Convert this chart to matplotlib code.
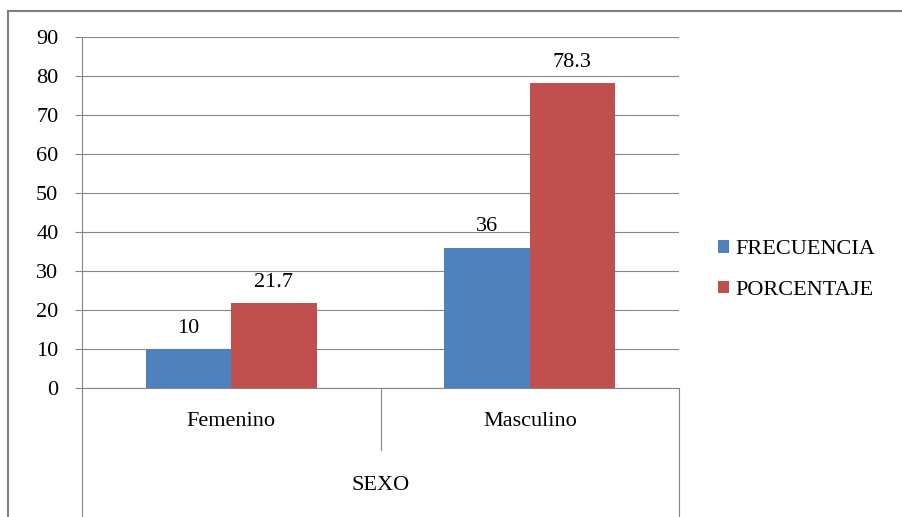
import matplotlib
matplotlib.use("Agg")
import matplotlib.pyplot as plt
from matplotlib.lines import Line2D
from matplotlib.patches import Patch
import matplotlib.transforms as mtransforms
import numpy as np

categories = ["Femenino", "Masculino"]
group_label = "SEXO"
series_names = ["FRECUENCIA", "PORCENTAJE"]
frecuencia = [10, 36]
porcentaje = [21.7, 78.3]
y_ticks = [0, 10, 20, 30, 40, 50, 60, 70, 80, 90]

colors = ["#4F81BD", "#C0504D"]
grey = "#868686"
fs = 16

plt.rcParams['font.family'] = ['Liberation Serif', 'DejaVu Serif']

W, H = 902, 517
fig = plt.figure(figsize=(W / 100, H / 100), dpi=100)
ax_left, ax_right, ax_top, ax_bottom = 82, 679, 37, 388
ax = fig.add_axes([ax_left / W, (H - ax_bottom) / H,
                   (ax_right - ax_left) / W, (ax_bottom - ax_top) / H])

x = np.arange(len(categories))
w = 1 / 3.5
b1 = ax.bar(x - w / 2, frecuencia, w, color=colors[0], label=series_names[0], zorder=3)
b2 = ax.bar(x + w / 2, porcentaje, w, color=colors[1], label=series_names[1], zorder=3)

ax.bar_label(b1, labels=[f"{v:g}" for v in frecuencia], padding=8, fontsize=fs)
ax.bar_label(b2, labels=[f"{v:g}" for v in porcentaje], padding=8, fontsize=fs)

ax.set_xlim(-0.5, len(categories) - 0.5)
ax.set_ylim(y_ticks[0], y_ticks[-1])
ax.set_yticks(y_ticks)
ax.tick_params(axis='y', length=5, width=0.8, color=grey, pad=12, labelsize=fs)
ax.set_xticks([])
ax.yaxis.grid(True, color=grey, linewidth=0.8, zorder=0)
ax.set_axisbelow(True)
for s in ["top", "right"]:
    ax.spines[s].set_visible(False)
for s in ["left", "bottom"]:
    ax.spines[s].set_color(grey)
    ax.spines[s].set_linewidth(0.8)

# category separators (multi-level axis)
trans = mtransforms.blended_transform_factory(ax.transData, ax.transAxes)
ah = ax_bottom - ax_top
inner_y = -(450 - ax_bottom) / ah
outer_y = -(H - ax_bottom) / ah
for xs in np.arange(-0.5, len(categories), 1.0):
    is_outer = xs == -0.5 or xs == len(categories) - 0.5
    ax.add_line(Line2D([xs, xs], [0, outer_y if is_outer else inner_y],
                       transform=trans, color=grey, linewidth=0.8, clip_on=False))
for xi, c in zip(x, categories):
    ax.text(xi, -(422 - ax_bottom) / ah, c, transform=trans, ha='center', va='center', fontsize=fs)
ax.text((len(categories) - 1) / 2, -(485 - ax_bottom) / ah, group_label, transform=trans,
        ha='center', va='center', fontsize=fs)

# legend
handles = [Patch(facecolor=colors[0]), Patch(facecolor=colors[1])]
fig.legend(handles, series_names, loc='center left',
           bbox_to_anchor=(718 / W, 1 - 270 / H), frameon=False, fontsize=fs,
           handlelength=0.5, handleheight=0.5, handletextpad=0.3,
           labelspacing=0.95, borderpad=0, borderaxespad=0)

# outer chart border
fig.add_artist(Line2D([8 / W, 8 / W], [0, 1 - 11 / H], transform=fig.transFigure,
                      color="#7F7F7F", linewidth=1.5))
fig.add_artist(Line2D([8 / W, 1], [1 - 11 / H, 1 - 11 / H], transform=fig.transFigure,
                      color="#7F7F7F", linewidth=1.5))

fig.savefig("out.png", dpi=100)
